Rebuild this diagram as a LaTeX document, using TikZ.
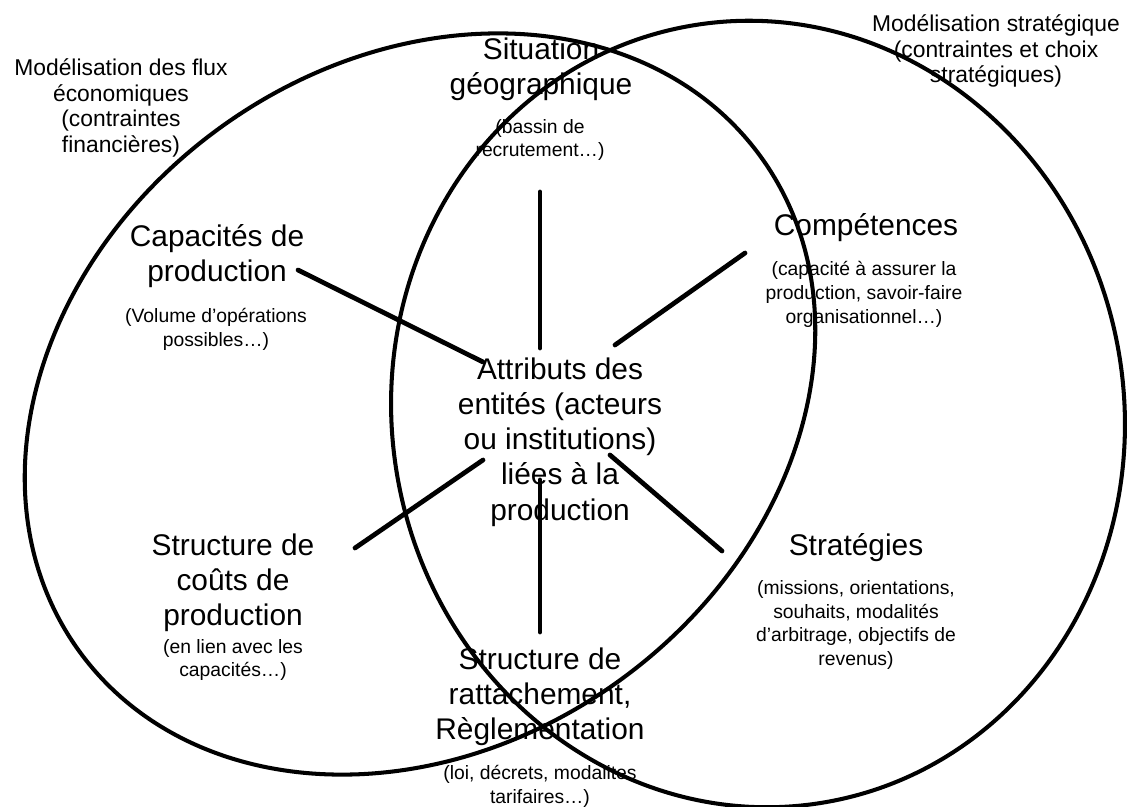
\documentclass[tikz,border=0pt]{standalone}
\usepackage{fontspec}
\setmainfont{Liberation Sans}

\begin{document}
\begin{tikzpicture}[x=0.02cm, y=-0.02cm, line cap=round,
    main node/.style={align=center, inner sep=0pt, font=\fontsize{17}{20}\selectfont},
    note node/.style={align=center, inner sep=0pt, font=\fontsize{11}{13.6}\selectfont},
    corner node/.style={align=center, inner sep=0pt, font=\fontsize{13}{14.5}\selectfont},
    zone/.style={line width=2.3pt},
    spoke/.style={line width=2.7pt}]

  \useasboundingbox (0,0) rectangle (1128,807);

  % the two zones
  \draw[zone, rotate around={36:(420,404)}] (420,404) ellipse [x radius=421, y radius=341];
  \draw[zone, rotate around={10:(758,414)}] (758,414) ellipse [x radius=366, y radius=394];

  \node[corner node] (econ) at (121,108) {Modélisation des flux\\économiques\\(contraintes\\financières)};
  \node[corner node] (strat label) at (996,51) {Modélisation stratégique\\(contraintes et choix\\stratégiques)};

  \node[main node] (attr) at (560,442) {Attributs des\\entités (acteurs\\ou institutions)\\liées à la\\production};

  \node[main node] (situ) at (541,69) {Situation\\géographique};
  \node[note node] (situ note) at (540,140) {(bassin de\\recrutement…)};

  \node[main node] (capa) at (217,256) {Capacités de\\production};
  \node[note node] (capa note) at (216,329) {(Volume d’opérations\\possibles…)};

  \node[main node] (comp) at (866,228) {Compétences};
  \node[note node] (comp note) at (864,294) {(capacité à assurer la\\production, savoir-faire\\organisationnel…)};

  \node[main node] (cout) at (233,583) {Structure de\\coûts de\\production};
  \node[note node] (cout note) at (233,660) {(en lien avec les\\capacités…)};

  \node[main node] (strat) at (856,548) {Stratégies};
  \node[note node] (strat note) at (856,625) {(missions, orientations,\\souhaits, modalités\\d’arbitrage, objectifs de\\revenus)};

  \node[main node] (ratt) at (540,697) {Structure de\\rattachement,\\Règlementation};
  \node[note node] (ratt note) at (540,786) {(loi, décrets, modalites\\tarifaires…)};

  % spokes
  \coordinate (situ end) at (540,192);
  \coordinate (attr n) at (540,348);
  \coordinate (capa end) at (298,270);
  \coordinate (attr nw) at (483,362);
  \coordinate (comp end) at (745,253);
  \coordinate (attr ne) at (615,345);
  \coordinate (cout end) at (355,548);
  \coordinate (attr sw) at (483,460);
  \coordinate (strat end) at (722,551);
  \coordinate (attr se) at (610,455);
  \coordinate (ratt end) at (540,632);
  \coordinate (attr s) at (540,480);

  \draw[spoke] (situ end) -- (attr n);
  \draw[spoke] (capa end) -- (attr nw);
  \draw[spoke] (comp end) -- (attr ne);
  \draw[spoke] (cout end) -- (attr sw);
  \draw[spoke] (strat end) -- (attr se);
  \draw[spoke] (ratt end) -- (attr s);

\end{tikzpicture}
\end{document}
